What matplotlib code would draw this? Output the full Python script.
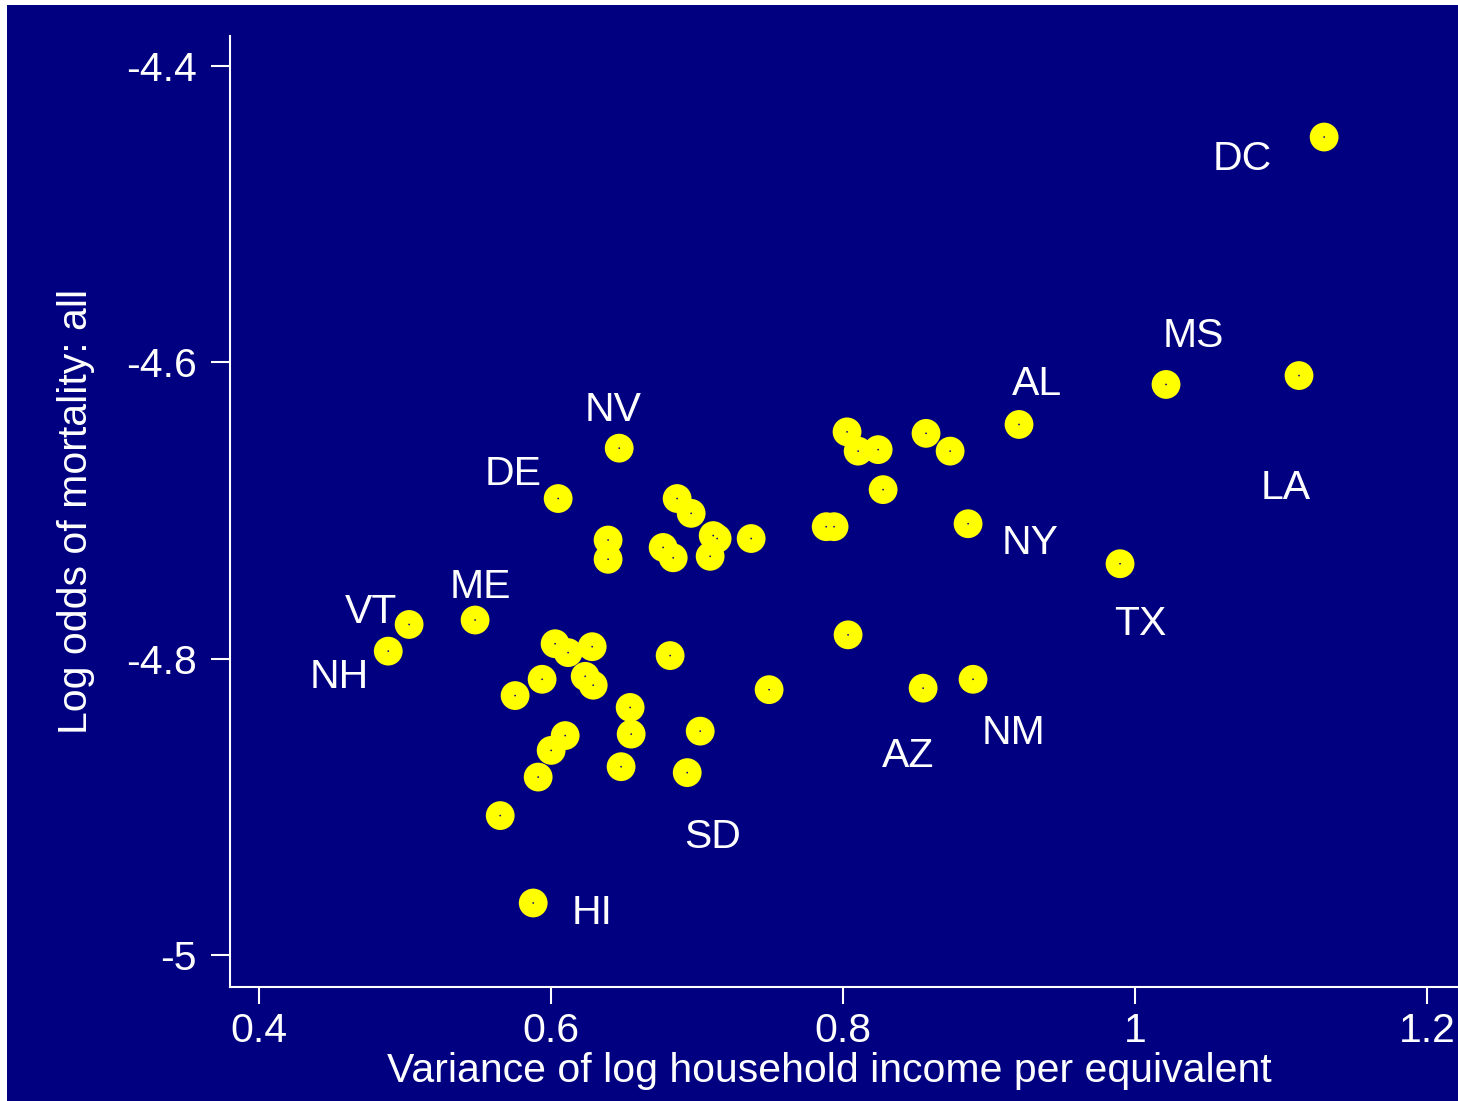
import matplotlib
matplotlib.use("Agg")
import matplotlib.pyplot as plt
from matplotlib.patches import Rectangle

plt.rcParams['font.family'] = ['Liberation Sans', 'DejaVu Sans']

navy = '#000080'

# variance of log household income (x) and log odds of mortality (y), one per state
var_inc = [1.1295, 1.1123, 1.0212, 0.9205, 0.8856, 0.9897, 0.8890, 0.8548,
           0.6932, 0.5877, 0.6466, 0.6048, 0.5479, 0.5027, 0.4884,
           0.8027, 0.8103, 0.8240, 0.8568, 0.8733, 0.8274, 0.7884, 0.7938,
           0.8034, 0.7493, 0.6863, 0.6959, 0.7110, 0.7137, 0.7089, 0.7370,
           0.6390, 0.6390, 0.6767, 0.6836, 0.6815, 0.6027, 0.6116, 0.6281,
           0.6233, 0.6288, 0.5938, 0.5753, 0.6541, 0.6548, 0.7021, 0.6096,
           0.6000, 0.6479, 0.5911, 0.5651]
log_odds = [-4.448, -4.609, -4.615, -4.642, -4.709, -4.736, -4.814, -4.820,
            -4.877, -4.965, -4.658, -4.692, -4.774, -4.777, -4.795,
            -4.647, -4.660, -4.659, -4.648, -4.660, -4.686, -4.711, -4.711,
            -4.784, -4.821, -4.692, -4.702, -4.717, -4.719, -4.731, -4.719,
            -4.720, -4.733, -4.725, -4.732, -4.798, -4.790, -4.796, -4.792,
            -4.812, -4.818, -4.814, -4.825, -4.833, -4.851, -4.849, -4.852,
            -4.862, -4.873, -4.880, -4.906]

# labelled states and where their labels sit
lab_names = ['DC', 'MS', 'AL', 'LA', 'NY', 'TX', 'NM', 'AZ',
             'SD', 'HI', 'NV', 'DE', 'ME', 'VT', 'NH']
lab_x = [1.0733, 1.0397, 0.9329, 1.1034, 0.9281, 1.0034, 0.9164, 0.8445,
         0.7103, 0.6281, 0.6425, 0.5740, 0.5514, 0.4767, 0.4548]
lab_y = [-4.460, -4.5795, -4.612, -4.682, -4.719, -4.774, -4.8475, -4.863,
         -4.918, -4.969, -4.6295, -4.673, -4.749, -4.766, -4.810]

xticks = [0.4, 0.6, 0.8, 1.0, 1.2]
xtick_labels = ['0.4', '0.6', '0.8', '1', '1.2']
yticks = [-4.4, -4.6, -4.8, -5.0]
ytick_labels = ['-4.4', '-4.6', '-4.8', '-5']

fs = 29.5

fig = plt.figure(figsize=(14.58, 11.01), dpi=100, facecolor='white')
# navy panel behind everything, with a thin white rim at left and top
fig.patches.append(Rectangle((7 / 1458, 0), 1, 1 - 5 / 1101,
                             transform=fig.transFigure, facecolor=navy,
                             edgecolor='none', zorder=-10))

ax = fig.add_axes([230 / 1458, 1 - 987 / 1101, 1 - 230 / 1458, (987 - 36) / 1101])
ax.set_zorder(5)
ax.patch.set_alpha(0)

ax.scatter(var_inc, log_odds, s=430, color='yellow', edgecolors='none', zorder=3)
ax.scatter(var_inc, log_odds, s=1.5, color=navy, edgecolors='none', zorder=4)

for name, tx, ty in zip(lab_names, lab_x, lab_y):
    ax.text(tx, ty, name, color='white', fontsize=fs, ha='center',
            va='center_baseline', zorder=5)

ax.set_xlim(0.38, 1.2212)
ax.set_ylim(-5.0217, -4.3798)

ax.set_xticks(xticks)
ax.set_xticklabels(xtick_labels)
ax.set_yticks(yticks)
ax.set_yticklabels(ytick_labels)

for s in ['top', 'right']:
    ax.spines[s].set_visible(False)
for s in ['left', 'bottom']:
    ax.spines[s].set_color('white')
    ax.spines[s].set_linewidth(1.5)

ax.tick_params(axis='both', colors='white', labelsize=fs, width=1.5)
ax.tick_params(axis='y', length=14, pad=10)
ax.tick_params(axis='x', length=12, pad=6)

ax.set_xlabel('Variance of log household income per equivalent', color='white',
              fontsize=fs)
ax.xaxis.set_label_coords(0.488, -0.068)
ax.set_ylabel('Log odds of mortality: all', color='white', fontsize=fs, labelpad=22)

fig.savefig('out.png', dpi=100, facecolor=fig.get_facecolor())
